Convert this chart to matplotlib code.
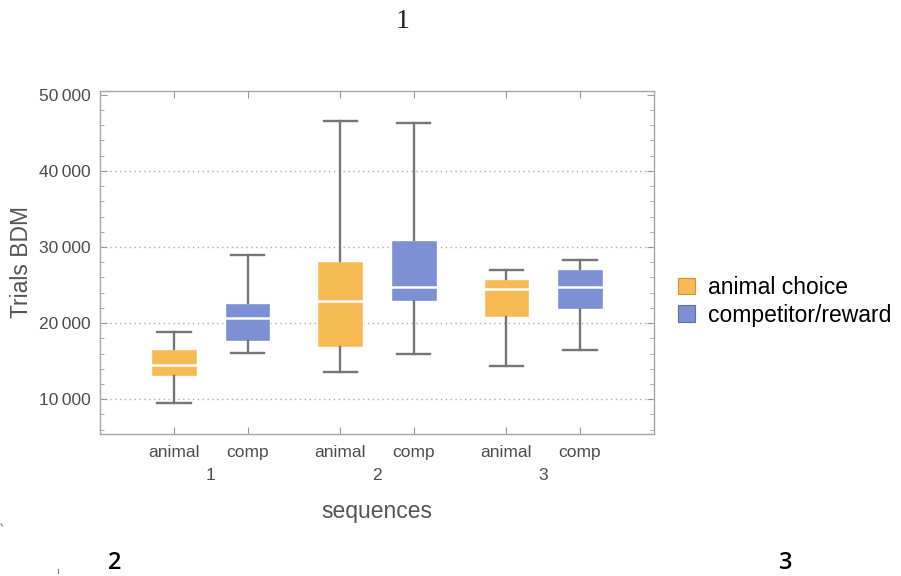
import matplotlib
matplotlib.use("Agg")
import matplotlib.pyplot as plt
from matplotlib.patches import Patch
from matplotlib.lines import Line2D
from matplotlib.ticker import MultipleLocator, FuncFormatter

plt.rcParams['font.family'] = ['Liberation Sans', 'DejaVu Sans']

# ---- data ----
groups = ["1", "2", "3"]
series = ["animal choice", "competitor/reward"]
short_labels = ["animal", "comp"]
colors = ["#F6BB55", "#7D90D3"]
edge_colors = ["#C9963E", "#5C6DB0"]

whislo = {"animal choice": [9550, 13630, 14380], "competitor/reward": [16050, 15920, 16400]}
q1     = {"animal choice": [13070, 16920, 20750], "competitor/reward": [17630, 22860, 21880]}
med    = {"animal choice": [14470, 22900, 24450], "competitor/reward": [20660, 24690, 24790]}
q3     = {"animal choice": [16580, 28160, 25830], "competitor/reward": [22630, 30920, 27150]}
whishi = {"animal choice": [18860, 46530, 26920], "competitor/reward": [28950, 46320, 28240]}

grid_values = [10000, 20000, 30000, 40000]
ylabel = "Trials BDM"
xlabel = "sequences"

fig = plt.figure(figsize=(9.01, 5.76), dpi=100)
ax = fig.add_axes([100/901, 1-434/576, 554/901, (434-90.7)/576])

offset = 0.2214
positions = []
for si, s in enumerate(series):
    stats = []
    pos = []
    for gi, g in enumerate(groups):
        stats.append(dict(whislo=whislo[s][gi], q1=q1[s][gi], med=med[s][gi],
                          q3=q3[s][gi], whishi=whishi[s][gi], fliers=[]))
        pos.append(gi + 1 + (offset if si == 1 else -offset))
    ax.bxp(stats, positions=pos, widths=0.275, patch_artist=True, showfliers=False,
           boxprops=dict(facecolor=colors[si], edgecolor="white", linewidth=1.0),
           medianprops=dict(color="white", linewidth=1.8),
           whiskerprops=dict(color="#767676", linewidth=1.7),
           capprops=dict(color="#767676", linewidth=1.7),
           capwidths=0.2, manage_ticks=False, zorder=3)
    positions += pos

order = sorted(range(len(positions)), key=lambda i: positions[i])
xt = [positions[i] for i in order]
xl = [short_labels[i // 3] for i in order]

for gv in grid_values:
    ax.axhline(gv, color="#aaaaaa", linestyle=(0, (1, 2.5)), linewidth=1.0, zorder=1)

ax.set_xlim(1/3, 3 + 2/3)
ax.set_ylim(5430, 50530)

ax.set_xticks(xt)
ax.set_xticklabels(xl)
ax.yaxis.set_major_locator(MultipleLocator(10000))
ax.yaxis.set_minor_locator(MultipleLocator(2000))
ax.yaxis.set_major_formatter(FuncFormatter(lambda v, p: f"{int(v)//1000}\u2009000"))

for sp in ax.spines.values():
    sp.set_color("#a8a8a8")
    sp.set_linewidth(1.0)

ax.tick_params(axis="both", which="both", direction="in", color="#999999",
               top=True, right=True, labelcolor="#4d4d4d", labelsize=12.5)
ax.tick_params(axis="both", which="major", length=5, width=0.8)
ax.tick_params(axis="y", which="minor", length=3, width=0.6)
ax.tick_params(axis="x", which="major", pad=16.5)
ax.tick_params(axis="y", which="major", pad=7)
for lab in ax.get_xticklabels():
    lab.set_verticalalignment("baseline")

# group labels
for gi, g in enumerate(groups):
    ax.text(gi + 1, -0.12, g, transform=ax.get_xaxis_transform(), ha="center",
            va="center", fontsize=12.5, color="#4d4d4d")

ax.set_ylabel(ylabel, fontsize=16.5, color="#555555", labelpad=4)
ax.text(2, -0.225, xlabel, transform=ax.get_xaxis_transform(), ha="center",
        va="center", fontsize=16.5, color="#555555")

handles = [Patch(facecolor=colors[i], edgecolor=edge_colors[i], linewidth=0.8, label=series[i])
           for i in range(2)]
fig.legend(handles=handles, loc="upper left", bbox_to_anchor=(678/901, 1-276/576),
           frameon=False, fontsize=16.5, handlelength=0.72, handleheight=0.72,
           handletextpad=0.6, labelspacing=0.2, borderpad=0, borderaxespad=0)

# page-like annotations
fig.text(403/901, 1-21/576, "1", ha="center", va="center", fontsize=20,
         family="Liberation Serif", color="#222222")
fig.text(115/901, 1-563/576, "2", ha="center", va="center", fontsize=17,
         family="Open Sans", weight="semibold", color="black")
fig.text(786/901, 1-563/576, "3", ha="center", va="center", fontsize=17,
         family="Open Sans", weight="semibold", color="black")
fig.add_artist(Line2D([58/901, 58/901], [1-569/576, 1-573/576], color="#777777", linewidth=0.8))
fig.add_artist(Line2D([1/901, 2.5/901], [1-524/576, 1-526/576], color="#777777", linewidth=0.8))

fig.savefig("out.png", dpi=100)
